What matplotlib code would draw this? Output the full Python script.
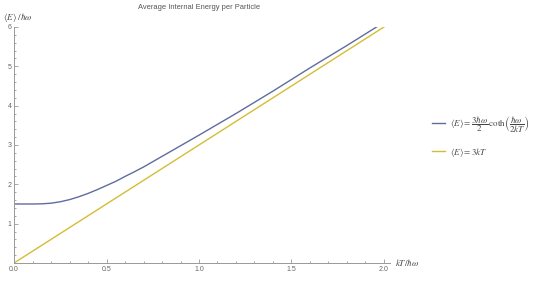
import matplotlib
matplotlib.use("Agg")
import matplotlib.pyplot as plt
from matplotlib.ticker import MultipleLocator

# values (energy in units of hbar*omega)
kt_quantum = [0.0, 0.1, 0.15, 0.2, 0.25, 0.3, 0.35, 0.4, 0.45, 0.5, 0.55, 0.6, 0.65,
              0.7, 0.8, 0.9, 1.0, 1.2, 1.4, 1.6, 1.8, 1.96]
energy_quantum = [1.50, 1.50, 1.504, 1.52, 1.556, 1.611, 1.683, 1.768, 1.865, 1.97, 2.075,
                  2.20, 2.317, 2.44, 2.71, 2.98, 3.25, 3.80, 4.37, 4.96, 5.53, 6.0]
kt_classical = [0.0, 2.0]
energy_classical = [0.0, 6.0]

label_quantum = r"$\langle E\rangle = \dfrac{3\hbar\omega}{2}\,\mathrm{coth}\left(\dfrac{\hbar\omega}{2kT}\right)$"
label_classical = r"$\langle E\rangle = 3kT$"

plt.rcParams['mathtext.fontset'] = 'stix'
plt.rcParams['font.family'] = ['Liberation Sans', 'DejaVu Sans']

fig = plt.figure(figsize=(5.4, 2.84), dpi=100)
ax = fig.add_axes([0.026, 0.074, 0.696, 0.831])

ax.plot(kt_quantum, energy_quantum, color='#606C9E', lw=1.0, label=label_quantum)
ax.plot(kt_classical, energy_classical, color='#D6BC34', lw=1.0, label=label_classical)

ax.set_xlim(0, 2.032)
ax.set_ylim(0, 6)
ax.xaxis.set_major_locator(MultipleLocator(0.5))
ax.xaxis.set_minor_locator(MultipleLocator(0.1))
ax.yaxis.set_major_locator(MultipleLocator(1))
ax.yaxis.set_minor_locator(MultipleLocator(0.2))
ax.xaxis.set_major_formatter(lambda v, p: f"{v:.1f}")
ax.yaxis.set_major_formatter(lambda v, p: "" if v == 0 else f"{v:.0f}")

for s in ['top', 'right']:
    ax.spines[s].set_visible(False)
for s in ['left', 'bottom']:
    ax.spines[s].set_color('#999999')
    ax.spines[s].set_linewidth(0.7)
ax.tick_params(which='both', direction='in', colors='#999999', width=0.6,
               labelsize=5, labelcolor='#666666', pad=2)
ax.tick_params(which='major', length=3)
ax.tick_params(which='minor', length=1.5)

fig.text(0.368, 0.975, "Average Internal Energy per Particle", ha='center', va='center',
         fontsize=5.4, color='#555555')
fig.text(0.006, 0.94, r"$\langle E\rangle\ /\hbar\omega$", ha='left', va='center',
         fontsize=6.5, color='#444444')
fig.text(0.732, 0.074, r"$kT/\hbar\omega$", ha='left', va='center',
         fontsize=6.5, color='#444444')

leg = fig.legend(loc='center left', bbox_to_anchor=(0.785, 0.52), frameon=False,
                 fontsize=6.5, handlelength=1.4, handletextpad=0.6, labelspacing=1.2)
for t in leg.get_texts():
    t.set_color('#444444')

fig.savefig("out.png", dpi=100)
